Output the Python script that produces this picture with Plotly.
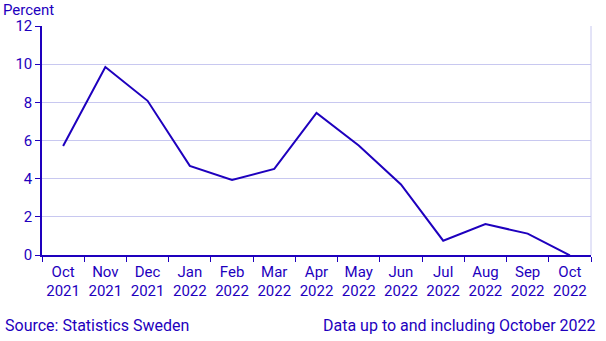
import plotly.graph_objects as go

months = ["Oct<br>2021", "Nov<br>2021", "Dec<br>2021", "Jan<br>2022", "Feb<br>2022", "Mar<br>2022",
          "Apr<br>2022", "May<br>2022", "Jun<br>2022", "Jul<br>2022", "Aug<br>2022", "Sep<br>2022", "Oct<br>2022"]
values = [5.71, 9.85, 8.08, 4.67, 3.93, 4.51, 7.44, 5.74, 3.70, 0.75, 1.62, 1.12, -0.02]
y_ticks = [0, 2, 4, 6, 8, 10, 12]

BLUE = "#1e00be"
GRID = "#c8c8f0"
FONT = "Roboto"

L, R, T, B = 42, 15, 26, 86
W, H = 606, 341
plot_w = W - L - R
plot_h = H - T - B

fig = go.Figure()
fig.add_trace(go.Scatter(x=months, y=values, mode="lines",
                         line=dict(color=BLUE, width=2), hoverinfo="skip"))

fig.update_layout(
    width=W, height=H,
    margin=dict(l=L, r=R, t=T, b=B, autoexpand=False),
    paper_bgcolor="white", plot_bgcolor="white",
    showlegend=False,
    font=dict(family=FONT, size=15, color=BLUE),
    xaxis=dict(type="category", range=[-0.5, len(months) - 0.5], tickson="boundaries",
               ticks="outside", ticklen=5, tickcolor=BLUE, showgrid=False, showline=True,
               linecolor=BLUE, linewidth=1.5, automargin=False, tickangle=0,
               ticklabelstandoff=2,
               tickfont=dict(family=FONT, size=15, color=BLUE), zeroline=False),
    yaxis=dict(range=[0, 12], tickvals=y_ticks, ticks="outside", ticklen=5, tickcolor=BLUE,
               showgrid=True, gridcolor=GRID, gridwidth=1, showline=True, linecolor=BLUE,
               linewidth=1.5, zeroline=False, automargin=False,
               tickfont=dict(family=FONT, size=15, color=BLUE)),
    shapes=[dict(type="line", xref="paper", yref="paper", x0=1, x1=1, y0=0, y1=1,
                 line=dict(color=GRID, width=1))],
    annotations=[
        dict(text="Percent", xref="paper", yref="paper", x=-(L - 1) / plot_w,
             y=1 + (T - 21) / plot_h, xanchor="left", yanchor="bottom",
             showarrow=False, font=dict(family=FONT, size=15, color=BLUE)),
        dict(text="Source: Statistics Sweden", xref="paper", yref="paper", x=-(L - 3) / plot_w,
             y=-(337 - (H - B)) / plot_h, xanchor="left", yanchor="bottom", showarrow=False,
             font=dict(family=FONT, size=16, color=BLUE)),
        dict(text="Data up to and including October 2022", xref="paper", yref="paper",
             x=(598 - L) / plot_w, y=-(337 - (H - B)) / plot_h, xanchor="right",
             yanchor="bottom", showarrow=False,
             font=dict(family=FONT, size=16, color=BLUE)),
    ],
)

fig.write_html("out.html")
